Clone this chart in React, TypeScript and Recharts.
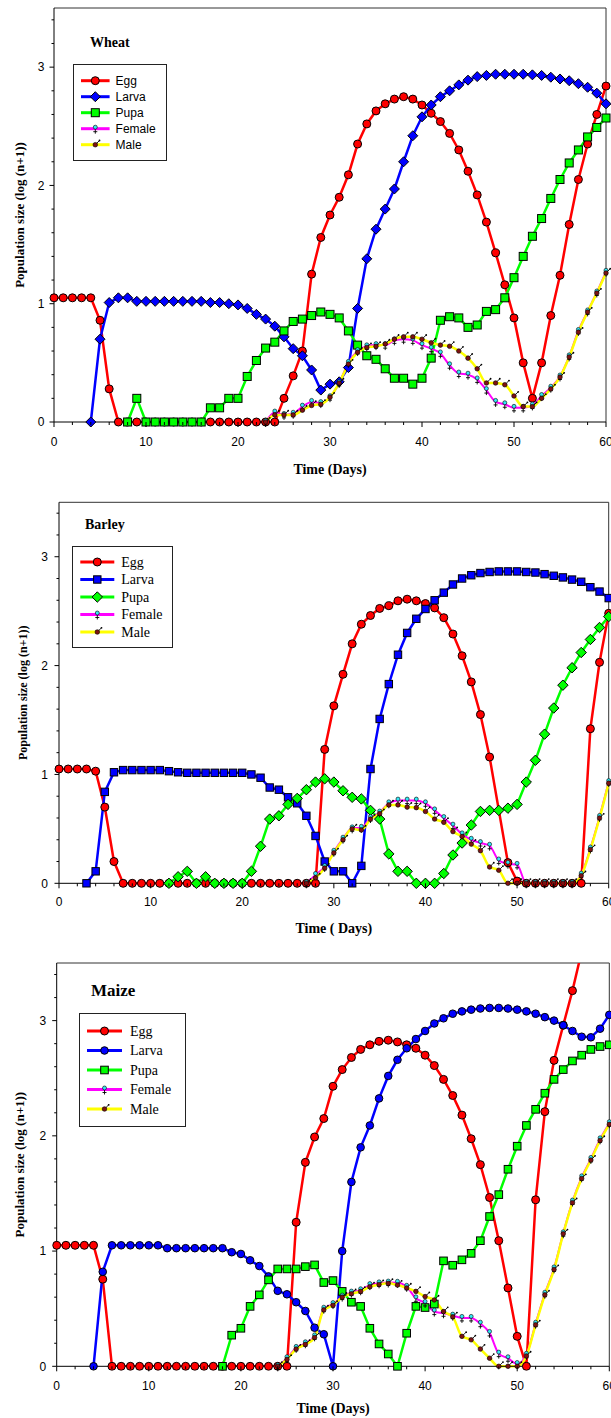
import { Legend, Line, LineChart, ReferenceLine, XAxis, YAxis } from "recharts";

const SANS = '"Liberation Sans", Arial, sans-serif';
const SERIF = '"Liberation Serif", "Times New Roman", serif';
const _ = null;

const days = [
  0, 1, 2, 3, 4, 5, 6, 7, 8, 9, 10, 11, 12, 13, 14, 15, 16, 17, 18, 19, 20, 21, 22, 23, 24, 25, 26, 27, 28, 29,
  30, 31, 32, 33, 34, 35, 36, 37, 38, 39, 40, 41, 42, 43, 44, 45, 46, 47, 48, 49, 50, 51, 52, 53, 54, 55, 56, 57,
  58, 59, 60,
];
const xTicks = [0, 2, 4, 6, 8, 10, 12, 14, 16, 18, 20, 22, 24, 26, 28, 30, 32, 34, 36, 38, 40, 42, 44, 46, 48, 50, 52, 54, 56, 58, 60];
const yTicks = [0, 0.2, 0.4, 0.6, 0.8, 1, 1.2, 1.4, 1.6, 1.8, 2, 2.2, 2.4, 2.6, 2.8, 3, 3.2, 3.4];

// wheat
const wheatEgg = [
  1.05, 1.05, 1.05, 1.05, 1.05, 0.86, 0.28, 0, 0, 0,
  0, 0, 0, 0, 0, 0, 0, 0, 0, 0,
  0, 0, 0, 0, 0, 0.2, 0.39, 0.6, 1.25, 1.56,
  1.75, 1.9, 2.09, 2.35, 2.52, 2.63, 2.69, 2.73, 2.75, 2.73,
  2.68, 2.61, 2.54, 2.44, 2.3, 2.12, 1.92, 1.69, 1.43, 1.16,
  0.88, 0.5, 0.2, 0.5, 0.9, 1.24, 1.67, 2.05, 2.35, 2.6,
  2.84,
];
const wheatLarva = [
  _, _, _, _, 0, 0.7, 1.01, 1.05, 1.05, 1.02,
  1.02, 1.02, 1.02, 1.02, 1.02, 1.02, 1.02, 1.01, 1.01, 1.0,
  0.99, 0.96, 0.91, 0.87, 0.81, 0.72, 0.62, 0.56, 0.44, 0.27,
  0.32, 0.34, 0.46, 0.96, 1.38, 1.63, 1.8, 1.97, 2.2, 2.42,
  2.58, 2.68, 2.75, 2.8, 2.85, 2.89, 2.92, 2.93, 2.94, 2.94,
  2.94, 2.94, 2.935, 2.93, 2.915, 2.9, 2.885, 2.86, 2.83, 2.78,
  2.69,
];
const wheatPupa = [
  _, _, _, _, _, _, _, _, 0, 0.2,
  0, 0, 0, 0, 0, 0, 0, 0.12, 0.12, 0.2,
  0.2, 0.385, 0.52, 0.625, 0.675, 0.77, 0.85, 0.87, 0.9, 0.93,
  0.91, 0.88, 0.77, 0.65, 0.56, 0.53, 0.45, 0.37, 0.37, 0.32,
  0.37, 0.54, 0.86, 0.89, 0.88, 0.8, 0.82, 0.935, 0.95, 1.05,
  1.22, 1.4, 1.57, 1.72, 1.89, 2.05, 2.19, 2.3, 2.41, 2.49,
  2.57,
];
const wheatFemale = [
  _, _, _, _, _, _, _, _, _, _,
  _, _, _, _, _, _, _, _, _, _,
  _, _, _, 0, 0.08, 0.06, 0.07, 0.13, 0.17, 0.16,
  0.21, 0.33, 0.5, 0.6, 0.64, 0.65, 0.65, 0.69, 0.7, 0.69,
  0.65, 0.62, 0.58, 0.48, 0.41, 0.4, 0.36, 0.27, 0.17, 0.15,
  0.12, 0.12, 0.14, 0.22, 0.29, 0.385, 0.555, 0.77, 0.935, 1.095,
  1.27,
];
const wheatMale = [
  _, _, _, _, _, _, _, _, _, _,
  _, _, _, _, _, _, _, _, _, _,
  _, _, _, 0, 0.06, 0.06, 0.06, 0.1, 0.14, 0.15,
  0.21, 0.33, 0.49, 0.59, 0.63, 0.64, 0.66, 0.7, 0.72, 0.72,
  0.7, 0.67, 0.65, 0.64, 0.6, 0.54, 0.45, 0.33, 0.33, 0.315,
  0.22, 0.13, 0.13, 0.2, 0.28, 0.38, 0.55, 0.76, 0.93, 1.09,
  1.26,
];

// barley
const barleyEgg = [
  1.05, 1.05, 1.05, 1.05, 1.03, 0.7, 0.2, 0, 0, 0,
  0, 0, 0, 0, 0, 0, 0, 0, 0, 0,
  0, 0, 0, 0, 0, 0, 0, 0, 0, 1.23,
  1.63, 1.92, 2.2, 2.38, 2.46, 2.525, 2.55, 2.595, 2.61, 2.595,
  2.57, 2.53, 2.44, 2.29, 2.09, 1.85, 1.55, 1.16, _, 0.19,
  0.02, 0, 0, 0, 0, 0, 0, 0, 1.42, 2.03,
  2.48,
];
const barleyLarva = [
  _, _, _, 0, 0.11, 0.84, 1.02, 1.04, 1.04, 1.04,
  1.04, 1.04, 1.03, 1.02, 1.015, 1.015, 1.015, 1.015, 1.015, 1.015,
  1.015, 1.0, 0.97, 0.88, 0.86, 0.79, 0.735, 0.62, 0.435, 0.2,
  0.11, 0.11, 0, 0.16, 1.05, 1.51, 1.83, 2.1, 2.3, 2.43,
  2.52, 2.6, 2.67, 2.745, 2.8, 2.83, 2.85, 2.86, 2.865, 2.865,
  2.865, 2.86, 2.855, 2.84, 2.825, 2.81, 2.79, 2.77, 2.72, 2.68,
  2.62,
];
const barleyPupa = [
  _, _, _, _, _, _, _, _, _, _,
  _, _, 0, 0.06, 0.11, 0, 0.06, 0, 0, 0,
  0, 0.11, 0.34, 0.59, 0.62, 0.725, 0.78, 0.86, 0.93, 0.96,
  0.93, 0.85, 0.79, 0.775, 0.67, 0.59, 0.27, 0.11, 0.11, 0,
  0, 0, 0.09, 0.26, 0.37, 0.535, 0.66, 0.67, 0.67, 0.69,
  0.725, 0.93, 1.13, 1.37, 1.61, 1.82, 1.98, 2.12, 2.24, 2.35,
  2.45,
];
const barleyFemale = [
  _, _, _, _, _, _, _, _, _, _,
  _, _, _, _, _, _, _, _, _, _,
  _, _, _, _, _, _, _, 0, 0.077, 0.15,
  0.29, 0.41, 0.505, 0.51, 0.6, 0.65, 0.735, 0.76, 0.76, 0.76,
  0.735, 0.67, 0.6, 0.53, 0.45, 0.4, 0.37, 0.345, 0.21, 0.18,
  0.17, 0, 0, 0, 0, 0, 0, 0.08, 0.32, 0.61,
  0.93,
];
const barleyMale = [
  _, _, _, _, _, _, _, _, _, _,
  _, _, _, _, _, _, _, _, _, _,
  _, _, _, _, _, _, _, 0, 0.05, 0.14,
  0.28, 0.4, 0.5, 0.49, 0.59, 0.64, 0.72, 0.72, 0.7, 0.695,
  0.66, 0.59, 0.56, 0.475, 0.43, 0.36, 0.3, 0.15, 0.12, 0,
  0, 0, 0, 0, 0, 0, 0, 0.07, 0.31, 0.6,
  0.92,
];

// maize
const maizeEgg = [
  1.05, 1.05, 1.05, 1.05, 1.05, 0.756, 0, 0, 0, 0,
  0, 0, 0, 0, 0, 0, 0, 0, 0, 0,
  0, 0, 0, 0, 0, 0, 1.25, 1.77, 1.99, 2.15,
  2.43, 2.575, 2.68, 2.75, 2.79, 2.82, 2.83, 2.815, 2.79, 2.76,
  2.7, 2.61, 2.49, 2.35, 2.18, 1.975, 1.75, 1.465, 1.09, 0.68,
  0.26, 0, 1.445, 2.21, 2.655, 2.96, 3.26, 3.6, _, _,
  _,
];
const maizeLarva = [
  _, _, _, _, 0, 0.82, 1.05, 1.05, 1.05, 1.05,
  1.05, 1.05, 1.025, 1.025, 1.025, 1.025, 1.025, 1.025, 1.025, 0.99,
  0.975, 0.92, 0.87, 0.78, 0.655, 0.625, 0.556, 0.48, 0.335, 0.278,
  0, 1.0, 1.6, 1.9, 2.09, 2.325, 2.52, 2.66, 2.76, 2.84,
  2.91, 2.975, 3.02, 3.06, 3.08, 3.095, 3.105, 3.11, 3.11, 3.105,
  3.095, 3.08, 3.06, 3.03, 3.0, 2.96, 2.91, 2.86, 2.855, 2.93,
  3.05,
];
const maizePupa = [
  _, _, _, _, _, _, _, _, _, _,
  _, _, _, _, _, _, _, _, 0, 0.27,
  0.33, 0.52, 0.62, 0.75, 0.845, 0.845, 0.845, 0.865, 0.88, 0.727,
  0.744, 0.65, 0.556, 0.52, 0.33, 0.194, 0.107, 0, 0.287, 0.52,
  0.51, 0.54, 0.915, 0.877, 0.924, 0.98, 1.09, 1.3, 1.49, 1.71,
  1.91, 2.09, 2.23, 2.37, 2.49, 2.575, 2.65, 2.7, 2.75, 2.775,
  2.79,
];
const maizeFemale = [
  _, _, _, _, _, _, _, _, _, _,
  _, _, _, _, _, _, _, _, _, _,
  _, _, _, _, 0, 0.07, 0.16, 0.2, 0.26, 0.5,
  0.54, 0.605, 0.64, 0.66, 0.705, 0.72, 0.727, 0.725, 0.69, 0.59,
  0.55, 0.475, 0.46, 0.44, 0.42, 0.42, 0.37, 0.29, 0.11, 0.07,
  0.02, 0.1, 0.37, 0.63, 0.85, 1.155, 1.43, 1.64, 1.8, 1.97,
  2.11,
];
const maizeMale = [
  _, _, _, _, _, _, _, _, _, _,
  _, _, _, _, _, _, _, _, _, _,
  _, _, _, _, 0, 0.06, 0.15, 0.19, 0.25, 0.49,
  0.53, 0.6, 0.63, 0.65, 0.69, 0.71, 0.72, 0.705, 0.68, 0.65,
  0.605, 0.576, 0.475, 0.43, 0.26, 0.23, 0.15, 0.07, 0, 0,
  0, 0.09, 0.36, 0.62, 0.84, 1.15, 1.42, 1.63, 1.79, 1.96,
  2.1,
];

type Shape = "circle" | "diamond" | "square" | "female" | "male";
type Series = {
  key: string;
  name: string;
  values: (number | null)[];
  color: string;
  fill: string;
  shape: Shape;
  size: number;
  width: number;
  curve: "linear" | "monotone";
  clip?: boolean;
};

type PanelCfg = {
  top: number;
  height: number;
  plotTop: number;
  plotBottom: number;
  plotLeft: number;
  plotRight: number;
  title: string;
  titleSize: number;
  titleX: number;
  titleY: number;
  xLabel: string;
  xLabelOffset: number;
  yLabelSize: number;
  yLabelX: number;
  xTickBase: number;
  yTickGap: number;
  legend: {
    left: number;
    top: number;
    width: number;
    height: number;
    rowTop: number;
    rowGap: number;
    lineX1: number;
    lineX2: number;
    textX: number;
    font: string;
    fontSize: number;
  };
  series: Series[];
};

const RED = "#ff0000";
const BLUE = "#0000ff";
const GREEN = "#00ff00";
const MAGENTA = "#ff00ff";
const YELLOW = "#ffff00";

function sexSeries(female: (number | null)[], male: (number | null)[]): Series[] {
  return [
    { key: "female", name: "Female", values: female, color: MAGENTA, fill: "#33e8f5", shape: "female", size: 2, width: 2, curve: "monotone" },
    { key: "male", name: "Male", values: male, color: YELLOW, fill: "#7d1212", shape: "male", size: 2.3, width: 2.5, curve: "monotone" },
  ];
}

const panels: PanelCfg[] = [
  {
    top: 0, height: 480, plotTop: 8, plotBottom: 422, plotLeft: 54, plotRight: 606,
    title: "Wheat", titleSize: 14, titleX: 90, titleY: 47,
    xLabel: "Time (Days)", xLabelOffset: 52, yLabelSize: 13, yLabelX: 23.5, xTickBase: 24, yTickGap: 9.5,
    legend: { left: 72.7, top: 64.3, width: 94, height: 97, rowTop: 16.7, rowGap: 16, lineX1: 8, lineX2: 36.6, textX: 42.6, font: SANS, fontSize: 12 },
    series: [
      { key: "egg", name: "Egg", values: wheatEgg, color: RED, fill: RED, shape: "circle", size: 4, width: 2.5, curve: "linear" },
      { key: "larva", name: "Larva", values: wheatLarva, color: BLUE, fill: BLUE, shape: "diamond", size: 5, width: 2.5, curve: "linear" },
      { key: "pupa", name: "Pupa", values: wheatPupa, color: GREEN, fill: GREEN, shape: "square", size: 4, width: 2.5, curve: "linear" },
      ...sexSeries(wheatFemale, wheatMale),
    ],
  },
  {
    top: 480, height: 470, plotTop: 22.3, plotBottom: 403.3, plotLeft: 59, plotRight: 608.7,
    title: "Barley", titleSize: 14, titleX: 85, titleY: 49,
    xLabel: "Time ( Days)", xLabelOffset: 50, yLabelSize: 12, yLabelX: 27, xTickBase: 23, yTickGap: 11,
    legend: { left: 71.7, top: 65.7, width: 101.6, height: 102, rowTop: 16, rowGap: 17.5, lineX1: 8.3, lineX2: 42.3, textX: 49.3, font: SERIF, fontSize: 14 },
    series: [
      { key: "egg", name: "Egg", values: barleyEgg, color: RED, fill: RED, shape: "circle", size: 4, width: 2.5, curve: "linear" },
      { key: "larva", name: "Larva", values: barleyLarva, color: BLUE, fill: BLUE, shape: "square", size: 3.7, width: 2.5, curve: "linear" },
      { key: "pupa", name: "Pupa", values: barleyPupa, color: GREEN, fill: GREEN, shape: "diamond", size: 5.2, width: 2.5, curve: "linear" },
      ...sexSeries(barleyFemale, barleyMale),
    ],
  },
  {
    top: 950, height: 468, plotTop: 13, plotBottom: 416.3, plotLeft: 56.7, plotRight: 609.3,
    title: "Maize", titleSize: 17, titleX: 91, titleY: 46,
    xLabel: "Time (Days)", xLabelOffset: 47, yLabelSize: 13, yLabelX: 24.5, xTickBase: 23.5, yTickGap: 10.5,
    legend: { left: 79, top: 62.7, width: 107, height: 114, rowTop: 18, rowGap: 19.5, lineX1: 8, lineX2: 43, textX: 51, font: SERIF, fontSize: 14 },
    series: [
      { key: "egg", name: "Egg", values: maizeEgg, color: RED, fill: RED, shape: "circle", size: 4, width: 2.5, curve: "linear", clip: true },
      { key: "larva", name: "Larva", values: maizeLarva, color: BLUE, fill: BLUE, shape: "circle", size: 3.8, width: 2.5, curve: "linear" },
      { key: "pupa", name: "Pupa", values: maizePupa, color: GREEN, fill: GREEN, shape: "square", size: 3.8, width: 2.5, curve: "linear" },
      ...sexSeries(maizeFemale, maizeMale),
    ],
  },
];

function marker(shape: Shape, fill: string, cx: number, cy: number, s: number) {
  switch (shape) {
    case "circle":
      return <circle cx={cx} cy={cy} r={s} fill={fill} stroke="#000" strokeWidth={1} />;
    case "diamond":
      return (
        <polygon
          points={`${cx},${cy - s} ${cx + s},${cy} ${cx},${cy + s} ${cx - s},${cy}`}
          fill={fill}
          stroke="#000"
          strokeWidth={1}
        />
      );
    case "square":
      return <rect x={cx - s} y={cy - s} width={s * 2} height={s * 2} fill={fill} stroke="#000" strokeWidth={1} />;
    case "female":
      return (
        <g>
          <circle cx={cx} cy={cy - 1.5} r={s} fill={fill} stroke="#000" strokeWidth={0.6} />
          <path d={`M${cx} ${cy + 0.6}V${cy + 5}M${cx - 2} ${cy + 3}H${cx + 2}`} stroke="#000" strokeWidth={0.9} fill="none" />
        </g>
      );
    case "male":
      return (
        <g>
          <circle cx={cx} cy={cy} r={s} fill={fill} stroke="#000" strokeWidth={0.6} />
          <path d={`M${cx + 1.6} ${cy - 1.6}L${cx + 4} ${cy - 4}`} stroke="#000" strokeWidth={0.9} />
          <circle cx={cx + 4.2} cy={cy - 4.2} r={0.9} fill="#000" />
        </g>
      );
  }
}

function makeDot(s: Series) {
  return (props: any) => {
    const { cx, cy, index, value } = props;
    const k = `${s.key}-${index}`;
    if (!Number.isFinite(cx) || !Number.isFinite(cy) || value == null) return <g key={k} />;
    return <g key={k}>{marker(s.shape, s.fill, cx, cy, s.size)}</g>;
  };
}

function XTick(props: any) {
  const { x, y, payload, base } = props;
  const v = payload.value;
  const major = v % 10 === 0;
  return (
    <g>
      <line x1={x} x2={x} y1={y} y2={y + (major ? 5 : 3)} stroke="#000" strokeWidth={1} />
      {major ? (
        <text x={x} y={y + base} textAnchor="middle" fontFamily={SANS} fontSize={12} fill="#000">
          {v}
        </text>
      ) : null}
    </g>
  );
}

function YTick(props: any) {
  const { x, y, payload, gap } = props;
  const v = payload.value;
  const major = Math.abs(v - Math.round(v)) < 1e-6;
  return (
    <g>
      <line x1={x} x2={x - (major ? 4.5 : 2.5)} y1={y} y2={y} stroke="#000" strokeWidth={1} />
      {major ? (
        <text x={x - gap} y={y + 4.3} textAnchor="end" fontFamily={SANS} fontSize={12} fill="#000">
          {Math.round(v)}
        </text>
      ) : null}
    </g>
  );
}

function LegendBox({ cfg }: { cfg: PanelCfg }) {
  const g = cfg.legend;
  return (
    <div
      style={{
        width: g.width,
        height: g.height,
        border: "1px solid #222",
        boxSizing: "border-box",
        background: "#fff",
      }}
    >
      <svg width={g.width - 2} height={g.height - 2} style={{ display: "block" }}>
        {cfg.series.map((s, i) => {
          const y = g.rowTop + i * g.rowGap - 1;
          const mx = (g.lineX1 + g.lineX2) / 2 - 1;
          return (
            <g key={s.key}>
              <line x1={g.lineX1 - 1} x2={g.lineX2 - 1} y1={y} y2={y} stroke={s.color} strokeWidth={3} />
              {marker(s.shape, s.fill, mx, y, s.size)}
              <text x={g.textX - 1} y={y + g.fontSize * 0.34} fontFamily={g.font} fontSize={g.fontSize} fill="#000">
                {s.name}
              </text>
            </g>
          );
        })}
      </svg>
    </div>
  );
}

function Panel({ cfg }: { cfg: PanelCfg }) {
  const rows = days.map((day, i) => {
    const row: Record<string, number | null> = { day };
    cfg.series.forEach((s) => {
      row[s.key] = s.values[i];
    });
    return row;
  });
  const hasClip = cfg.series.some((s) => s.clip);
  const midX = (cfg.plotLeft + cfg.plotRight) / 2;
  const midY = (cfg.plotTop + cfg.plotBottom) / 2;

  return (
    <div style={{ position: "absolute", left: 0, top: cfg.top, width: 611, height: cfg.height }}>
      <LineChart
        width={611}
        height={cfg.height}
        data={rows}
        margin={{ top: cfg.plotTop, right: 611 - cfg.plotRight, bottom: 0, left: 0 }}
      >
        <XAxis
          dataKey="day"
          type="number"
          domain={[0, 60]}
          ticks={xTicks}
          interval={0}
          height={cfg.height - cfg.plotBottom}
          tickSize={0}
          tickMargin={0}
          tickLine={false}
          axisLine={{ stroke: "#000", strokeWidth: 1 }}
          tick={(p: any) => <XTick {...p} base={cfg.xTickBase} />}
          label={() => (
            <text
              x={midX}
              y={cfg.plotBottom + cfg.xLabelOffset}
              textAnchor="middle"
              fontFamily={SERIF}
              fontWeight="bold"
              fontSize={14}
              fill="#000"
            >
              {cfg.xLabel}
            </text>
          )}
        />
        <YAxis
          type="number"
          domain={[0, 3.5]}
          ticks={yTicks}
          interval={0}
          width={cfg.plotLeft}
          tickSize={0}
          tickMargin={0}
          tickLine={false}
          axisLine={{ stroke: "#000", strokeWidth: 1 }}
          tick={(p: any) => <YTick {...p} gap={cfg.yTickGap} />}
          label={() => (
            <text
              x={cfg.yLabelX}
              y={midY}
              transform={`rotate(-90 ${cfg.yLabelX} ${midY})`}
              textAnchor="middle"
              fontFamily={SERIF}
              fontWeight="bold"
              fontSize={cfg.yLabelSize}
              fill="#000"
            >
              Population size (log (n+1))
            </text>
          )}
        />
        {hasClip ? <YAxis yAxisId="clip" type="number" domain={[0, 3.5]} allowDataOverflow hide /> : null}
        <ReferenceLine y={3.5} stroke="#333" strokeWidth={1} />
        <ReferenceLine x={60} stroke="#333" strokeWidth={1} />
        {cfg.series.map((s) => (
          <Line
            key={s.key}
            yAxisId={s.clip ? "clip" : 0}
            type={s.curve}
            dataKey={s.key}
            name={s.name}
            stroke={s.color}
            strokeWidth={s.width}
            connectNulls
            dot={
              s.clip
                ? { r: s.size, fill: s.fill, stroke: "#000", strokeWidth: 1, clipDot: false }
                : makeDot(s)
            }
            activeDot={false}
            isAnimationActive={false}
          />
        ))}
        <Legend
          layout="vertical"
          align="center"
          verticalAlign="middle"
          content={() => <LegendBox cfg={cfg} />}
          wrapperStyle={{
            position: "absolute",
            left: cfg.legend.left,
            top: cfg.legend.top,
            width: cfg.legend.width,
            height: cfg.legend.height,
          }}
        />
      </LineChart>
      <svg
        width={611}
        height={80}
        style={{ position: "absolute", left: 0, top: 0, pointerEvents: "none" }}
      >
        <text x={cfg.titleX} y={cfg.titleY} fontFamily={SERIF} fontWeight="bold" fontSize={cfg.titleSize} fill="#000">
          {cfg.title}
        </text>
      </svg>
    </div>
  );
}

export default function App() {
  return (
    <div style={{ position: "absolute", left: 0, top: 0, width: 611, height: 1418, background: "#fff" }}>
      {panels.map((p) => (
        <Panel key={p.title} cfg={p} />
      ))}
    </div>
  );
}
